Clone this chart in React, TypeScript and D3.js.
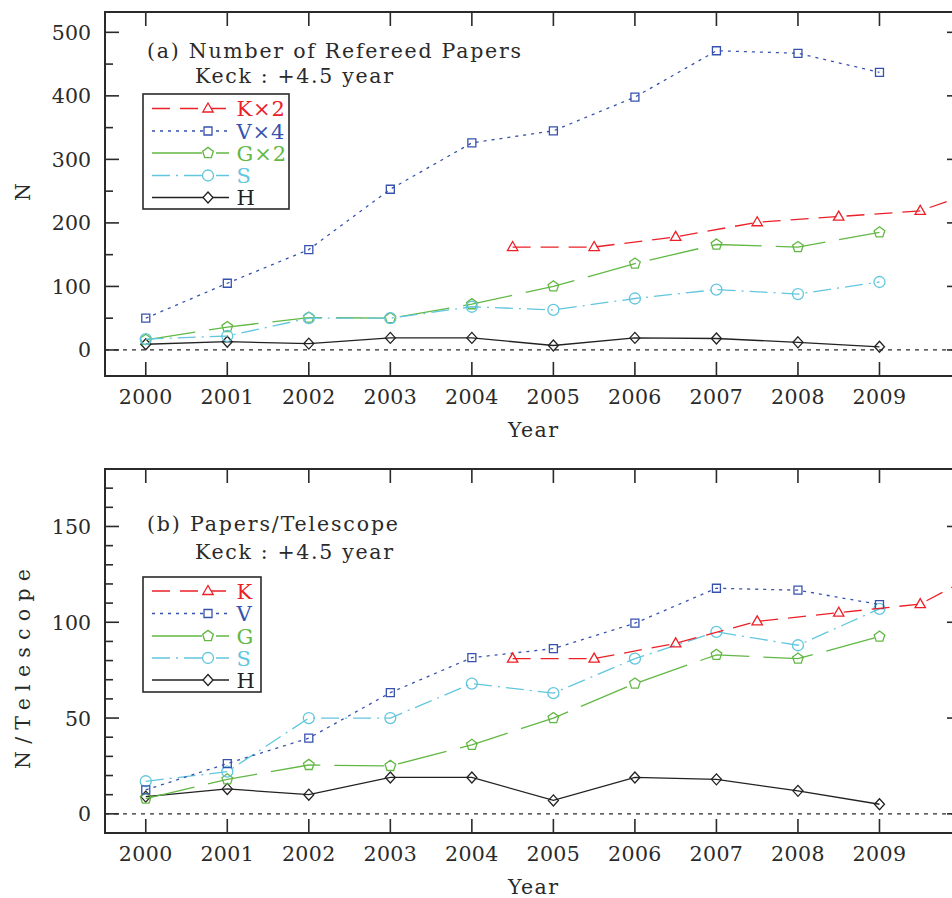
import React, { useRef, useLayoutEffect } from 'react';
import * as d3 from 'd3';

// per-telescope paper counts
const years = [2000, 2001, 2002, 2003, 2004, 2005, 2006, 2007, 2008, 2009];
const keckYears = [2004.5, 2005.5, 2006.5, 2007.5, 2008.5, 2009.5, 2010.5];
const keck = [81, 81, 89, 100.5, 105, 109.5, 132];
const vlt = [12.5, 26.25, 39.5, 63.25, 81.5, 86.25, 99.5, 117.75, 116.75, 109.25];
const gemini = [8, 18, 25.5, 25, 36, 50, 68, 83, 81, 92.5];
const subaru = [17, 22, 50, 50, 68, 63, 81, 95, 88, 107];
const het = [9, 13, 10, 19, 19, 7, 19, 18, 12, 5];

// number of telescopes (used for panel a)
const telescopes = [2, 4, 2, 1, 1];
const seriesNames = ['K', 'V', 'G', 'S', 'H'];

const xTicks = years;
const yTicksA = [0, 100, 200, 300, 400, 500];
const yTicksB = [0, 50, 100, 150];

const colors = ['#ec2028', '#3752ae', '#62b844', '#62c6de', '#222222'];
const dashes = ['18,10', '3,5', '50,14', '18,6,2,6', null];
const shapes = ['triangle', 'square', 'pentagon', 'circle', 'diamond'];

const FONT = '"DejaVu Serif", serif';
const INK = '#2a2a2a';

const markerPath = (shape) => {
    const p = d3.path();
    if (shape === 'triangle') {
        p.moveTo(0, -5.5); p.lineTo(5.2, 3.5); p.lineTo(-5.2, 3.5); p.closePath();
    } else if (shape === 'square') {
        p.rect(-4, -4, 8, 8);
    } else if (shape === 'pentagon') {
        for (let i = 0; i < 5; i++) {
            const a = -Math.PI / 2 + i * 2 * Math.PI / 5;
            const x = 5.6 * Math.cos(a), y = 5.6 * Math.sin(a);
            if (i === 0) p.moveTo(x, y); else p.lineTo(x, y);
        }
        p.closePath();
    } else if (shape === 'circle') {
        p.arc(0, 0, 5.5, 0, 2 * Math.PI);
    } else {
        p.moveTo(0, -5.5); p.lineTo(5, 0); p.lineTo(0, 5.5); p.lineTo(-5, 0); p.closePath();
    }
    return p.toString();
};

const App = () => {
    const ref = useRef();

    useLayoutEffect(() => {
        const svg = d3.select(ref.current);
        svg.selectAll('*').remove();

        const left = 105, right = 961;
        const x = d3.scaleLinear().domain([1999.5, 2010]).range([left, right]);

        const panels = [
            {
                id: 'a', top: 12, bottom: 376, domain: [-41, 532], ticks: yTicksA, minor: 50,
                mult: telescopes, title: '(a) Number of Refereed Papers', titleLen: 374,
                titleY: 58, keckY: 83,
                yLabel: 'N', yLabelLen: null, yLabelY: 192,
                legend: { x0: 143, y0: 94, w: 146, h: 115, rows: [108.5, 131, 153, 175.5, 197.5] },
                labels: seriesNames.map((n, i) => telescopes[i] > 1 ? n + '\u00d7' + telescopes[i] : n)
            },
            {
                id: 'b', top: 469, bottom: 833, domain: [-10, 180], ticks: yTicksB, minor: 10,
                mult: [1, 1, 1, 1, 1], title: '(b) Papers/Telescope', titleLen: 251,
                titleY: 531, keckY: 559,
                yLabel: 'N/Telescope', yLabelLen: 200, yLabelY: 669,
                legend: { x0: 143, y0: 577, w: 118, h: 115, rows: [591, 613.5, 636, 658, 680] },
                labels: seriesNames
            }
        ];

        const txt = (sel) => sel.attr('font-family', FONT).attr('font-size', 20.5).attr('fill', INK);

        panels.forEach(pn => {
            const y = d3.scaleLinear().domain(pn.domain).range([pn.bottom, pn.top]);
            const g = svg.append('g');

            g.append('clipPath').attr('id', 'clip-' + pn.id)
                .append('rect').attr('x', left).attr('y', pn.top)
                .attr('width', right - left).attr('height', pn.bottom - pn.top);

            const plot = g.append('g').attr('clip-path', 'url(#clip-' + pn.id + ')');

            // zero line
            plot.append('line')
                .attr('x1', left).attr('x2', right)
                .attr('y1', y(0)).attr('y2', y(0))
                .attr('stroke', INK).attr('stroke-width', 1.3).attr('stroke-dasharray', '4,5');

            const allSeries = [keck, vlt, gemini, subaru, het];
            [4, 2, 3, 1, 0].forEach(si => {
                const xs = si === 0 ? keckYears : years;
                const pts = allSeries[si].map((v, i) => [xs[i], v * pn.mult[si]]);
                const line = d3.line().x(d => x(d[0])).y(d => y(d[1]));
                plot.append('path')
                    .attr('d', line(pts))
                    .attr('fill', 'none')
                    .attr('stroke', colors[si])
                    .attr('stroke-width', 1.3)
                    .attr('stroke-dasharray', dashes[si]);
                plot.selectAll('.m' + si).data(pts).enter().append('path')
                    .attr('class', 'm' + si)
                    .attr('transform', d => 'translate(' + x(d[0]) + ',' + y(d[1]) + ')')
                    .attr('d', markerPath(shapes[si]))
                    .attr('fill', 'none')
                    .attr('stroke', colors[si])
                    .attr('stroke-width', 1.3);
            });

            // frame
            g.append('rect')
                .attr('x', left).attr('y', pn.top)
                .attr('width', right - left).attr('height', pn.bottom - pn.top)
                .attr('fill', 'none').attr('stroke', INK).attr('stroke-width', 2);

            // x ticks, top and bottom
            xTicks.forEach(t => {
                g.append('line').attr('x1', x(t)).attr('x2', x(t))
                    .attr('y1', pn.bottom).attr('y2', pn.bottom - 14)
                    .attr('stroke', INK).attr('stroke-width', 1.6);
                g.append('line').attr('x1', x(t)).attr('x2', x(t))
                    .attr('y1', pn.top).attr('y2', pn.top + 14)
                    .attr('stroke', INK).attr('stroke-width', 1.6);
                g.append('text').attr('x', x(t)).attr('y', pn.bottom + 28)
                    .attr('text-anchor', 'middle')
                    .attr('letter-spacing', 0.4)
                    .call(txt)
                    .text(t);
            });

            // y ticks, major and minor on both sides
            const minorTicks = d3.range(Math.ceil(pn.domain[0] / pn.minor) * pn.minor, pn.domain[1], pn.minor);
            minorTicks.forEach(t => {
                const major = pn.ticks.includes(t);
                const len = major ? 14 : 8;
                g.append('line').attr('x1', left).attr('x2', left + len)
                    .attr('y1', y(t)).attr('y2', y(t))
                    .attr('stroke', INK).attr('stroke-width', 1.6);
                g.append('line').attr('x1', right).attr('x2', right - len)
                    .attr('y1', y(t)).attr('y2', y(t))
                    .attr('stroke', INK).attr('stroke-width', 1.6);
            });
            pn.ticks.forEach(t => {
                g.append('text').attr('x', 91).attr('y', y(t) + 7.5)
                    .attr('text-anchor', 'end')
                    .call(txt)
                    .text(t);
            });

            // axis labels
            g.append('text').attr('x', 508).attr('y', pn.bottom + 61)
                .attr('textLength', 50).attr('lengthAdjust', 'spacing')
                .call(txt)
                .text('Year');
            const yl = g.append('text')
                .attr('transform', 'translate(30,' + pn.yLabelY + ') rotate(-90)')
                .call(txt);
            if (pn.yLabelLen) {
                yl.attr('x', -pn.yLabelLen / 2)
                    .attr('textLength', pn.yLabelLen).attr('lengthAdjust', 'spacing');
            } else {
                yl.attr('text-anchor', 'middle');
            }
            yl.text(pn.yLabel);

            // panel title
            g.append('text').attr('x', 147).attr('y', pn.titleY)
                .attr('textLength', pn.titleLen).attr('lengthAdjust', 'spacing')
                .call(txt)
                .text(pn.title);
            g.append('text').attr('x', 195).attr('y', pn.keckY)
                .attr('textLength', 198).attr('lengthAdjust', 'spacing')
                .call(txt)
                .text('Keck : +4.5 year');

            // legend
            const lg = pn.legend;
            g.append('rect').attr('x', lg.x0).attr('y', lg.y0)
                .attr('width', lg.w).attr('height', lg.h)
                .attr('fill', 'white').attr('stroke', INK).attr('stroke-width', 1.6);
            lg.rows.forEach((ry, si) => {
                g.append('line').attr('x1', 152).attr('x2', 229)
                    .attr('y1', ry).attr('y2', ry)
                    .attr('stroke', colors[si]).attr('stroke-width', 1.3)
                    .attr('stroke-dasharray', dashes[si]);
                g.append('path')
                    .attr('transform', 'translate(208,' + ry + ')')
                    .attr('d', markerPath(shapes[si]))
                    .attr('fill', 'white').attr('stroke', colors[si]).attr('stroke-width', 1.3);
                g.append('text').attr('x', 236.5).attr('y', ry + 7.5)
                    .attr('font-family', FONT).attr('font-size', 21).attr('fill', colors[si])
                    .attr('letter-spacing', 0.9)
                    .text(pn.labels[si]);
            });
        });
    }, []);

    return (
        <svg ref={ref} width={952} height={898}
            style={{ position: 'absolute', left: 0, top: 0, background: 'white' }}></svg>
    );
};

export default App;
